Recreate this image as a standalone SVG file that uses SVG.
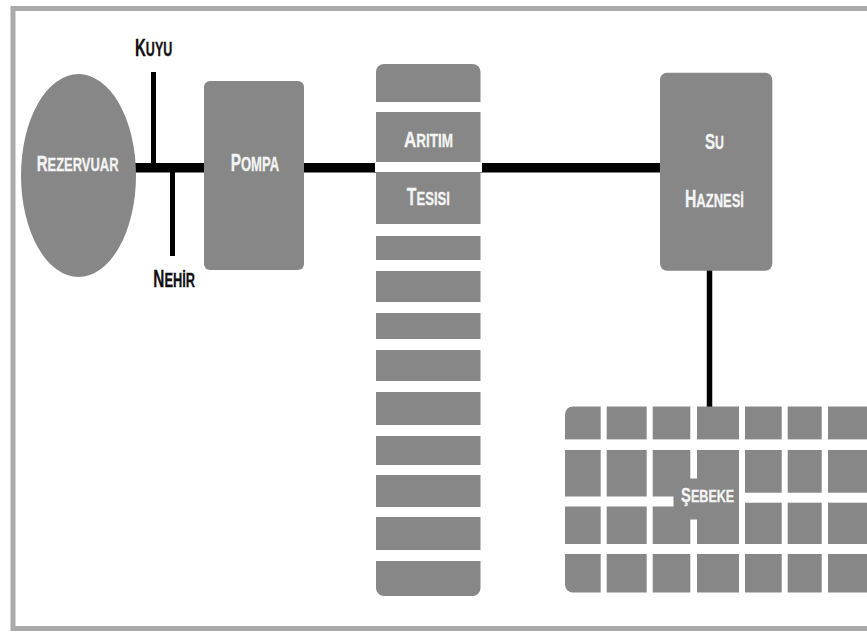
<svg xmlns="http://www.w3.org/2000/svg" width="867" height="634" viewBox="0 0 867 634">
<style>
.shape{fill:#878787}
.gap{fill:#ffffff}
.pipe{stroke:#000;fill:none;stroke-linecap:butt}
.lbl{font-family:"Liberation Sans",Arial,sans-serif;font-weight:bold;fill:#f4f4f4;stroke:#f4f4f4;stroke-width:0.3}
.dark{fill:#111111;stroke:#111111}
</style>
<rect x="0" y="0" width="867" height="634" fill="#ffffff"/>
<rect x="13" y="8.5" width="900" height="620" fill="none" stroke="#aaaaaa" stroke-width="5"/>

<g id="connectors">
  <line class="pipe" x1="130" y1="167.8" x2="206" y2="167.8" stroke-width="9.5"/>
  <line class="pipe" x1="302" y1="167.8" x2="377" y2="167.8" stroke-width="9.5"/>
  <line class="pipe" x1="479" y1="167.8" x2="662" y2="167.8" stroke-width="9.5"/>
  <line class="pipe" x1="153.5" y1="72" x2="153.5" y2="168" stroke-width="5"/>
  <line class="pipe" x1="172.5" y1="168" x2="172.5" y2="256" stroke-width="5"/>
  <line class="pipe" x1="709.5" y1="268" x2="709.5" y2="408" stroke-width="5.5"/>
</g>

<g id="rezervuar">
  <ellipse class="shape" cx="78.5" cy="175.5" rx="57.5" ry="101.5"/>
  <text class="lbl" transform="translate(36.7,171) scale(0.70,1)"><tspan font-size="21.5">R</tspan><tspan font-size="18.5">EZERVUAR</tspan></text>
</g>

<g id="kuyu">
  <text class="lbl dark" transform="translate(135,56) scale(0.626,1)"><tspan font-size="24">K</tspan><tspan font-size="20">UYU</tspan></text>
</g>

<g id="nehir">
  <text class="lbl dark" transform="translate(153.3,287) scale(0.64,1)"><tspan font-size="24">N</tspan><tspan font-size="20">EHİR</tspan></text>
</g>

<g id="pompa">
  <rect class="shape" x="204" y="81" width="100" height="189" rx="6"/>
  <text class="lbl" transform="translate(230.7,171) scale(0.668,1)"><tspan font-size="23">P</tspan><tspan font-size="19.5">OMPA</tspan></text>
</g>

<g id="aritim-tesisi">
  <rect class="shape" x="376" y="64" width="104.5" height="532" rx="8"/>
  <rect class="gap" x="375" y="102" width="107" height="10"/>
  <rect class="gap" x="375" y="162" width="107" height="10"/>
  <rect class="gap" x="375" y="224" width="107" height="12"/>
  <rect class="gap" x="375" y="260" width="107" height="11"/>
  <rect class="gap" x="375" y="302" width="107" height="11"/>
  <rect class="gap" x="375" y="339" width="107" height="11"/>
  <rect class="gap" x="375" y="381" width="107" height="11"/>
  <rect class="gap" x="375" y="425" width="107" height="11"/>
  <rect class="gap" x="375" y="465" width="107" height="10"/>
  <rect class="gap" x="375" y="507" width="107" height="10"/>
  <rect class="gap" x="375" y="550" width="107" height="11"/>
  <text class="lbl" transform="translate(404,147) scale(0.772,1)"><tspan font-size="22">A</tspan><tspan font-size="17.5">RITIM</tspan></text>
  <text class="lbl" transform="translate(406.7,205) scale(0.69,1)"><tspan font-size="23">T</tspan><tspan font-size="19">ESISI</tspan></text>
</g>

<g id="su-haznesi">
  <rect class="shape" x="660" y="72.7" width="112.3" height="198" rx="7"/>
  <text class="lbl" transform="translate(705,149) scale(0.687,1)"><tspan font-size="22">S</tspan><tspan font-size="18">U</tspan></text>
  <text class="lbl" transform="translate(685,207) scale(0.684,1)"><tspan font-size="23">H</tspan><tspan font-size="19">AZNESİ</tspan></text>
</g>

<g id="sebeke">
  <rect class="shape" x="565" y="406.5" width="320" height="186" rx="8"/>
  <rect class="gap" x="564" y="439.4" width="304" height="10.6"/>
  <rect class="gap" x="564" y="544" width="304" height="10"/>
  <rect class="gap" x="564" y="496.5" width="109.5" height="10"/>
  <rect class="gap" x="743" y="492.7" width="125" height="10"/>
  <rect class="gap" x="600.7" y="405" width="6" height="189"/>
  <rect class="gap" x="646.7" y="405" width="6" height="189"/>
  <rect class="gap" x="690.3" y="405" width="6.7" height="73.5"/>
  <rect class="gap" x="690.3" y="519.5" width="6.7" height="74.5"/>
  <rect class="gap" x="739" y="405" width="6" height="189"/>
  <rect class="gap" x="781.7" y="405" width="6" height="189"/>
  <rect class="gap" x="821.7" y="405" width="6.3" height="189"/>
  <text class="lbl" transform="translate(681,501.5) scale(0.741,1)"><tspan font-size="20">Ş</tspan><tspan font-size="17">EBEKE</tspan></text>
</g>
</svg>
